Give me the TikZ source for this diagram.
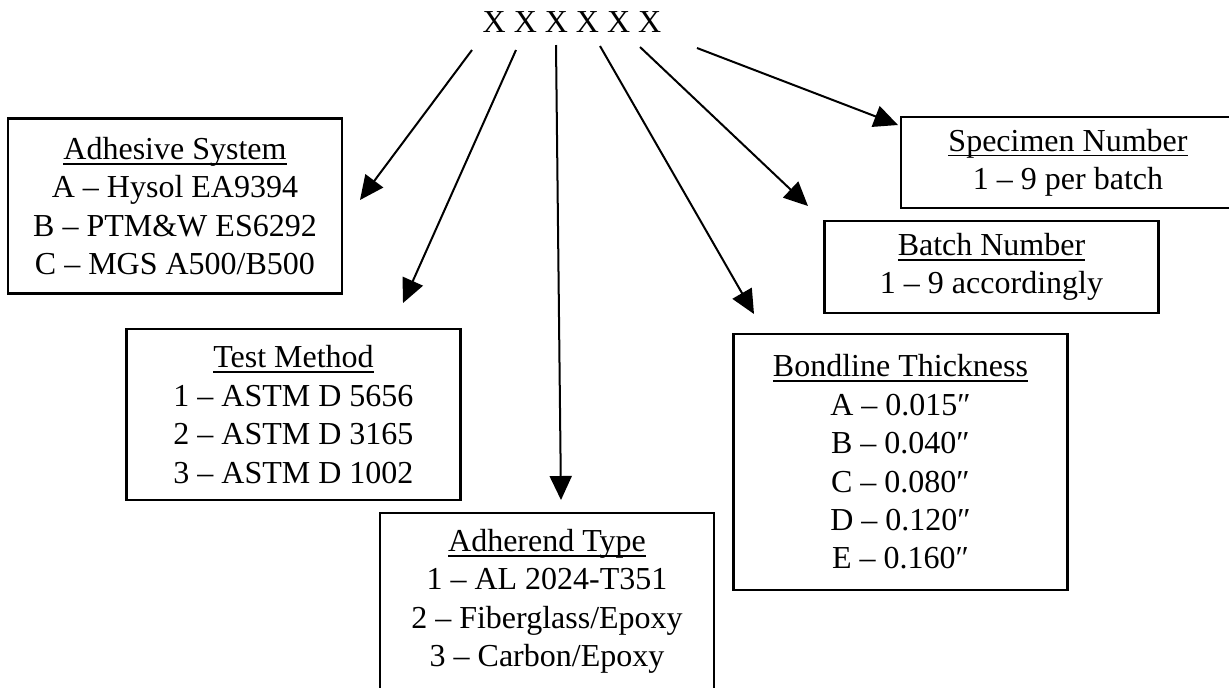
\documentclass[tikz,border=0pt]{standalone}
\usepackage{fontspec}
\setmainfont{Liberation Serif}
\usetikzlibrary{arrows.meta,positioning}
\newcommand{\keytitle}[1]{\setbox0\hbox{#1}\rlap{\rule[-2.6pt]{\wd0}{0.8pt}}\box0}

\begin{document}
\begin{tikzpicture}[x=0.5pt,y=-0.5pt,>={Triangle[length=12pt,width=11pt]},
  every node/.style={font=\fontsize{16}{19.2}\selectfont},
  keybox/.style={draw,line width=1.2pt,minimum width=167pt,align=center,inner sep=0pt},
  pointer/.style={->,line width=1pt}]
\clip (0,0) rectangle (1229,687);
\node[font=\fontsize{16}{19}\selectfont] (code) at (572,22) {X X X X X X};
\node[keybox,minimum height=87.5pt] (adh) at (175,206) {\keytitle{Adhesive System}\\A – Hysol EA9394\\B – PTM\&W ES6292\\C – MGS A500/B500};
\node[keybox,minimum height=85.5pt] (test) at (293.5,414.5) {\keytitle{Test Method}\\1 – ASTM D 5656\\2 – ASTM D 3165\\3 – ASTM D 1002};
\node[keybox,minimum height=88.5pt] (adher) at (547,601.5) {\keytitle{Adherend Type}\\1 – AL 2024-T351\\2 – Fiberglass/Epoxy\\3 – Carbon/Epoxy};
\node[keybox,minimum height=128pt] (bond) at (900.5,462) {\keytitle{Bondline Thickness}\\A – 0.015″\\B – 0.040″\\C – 0.080″\\D – 0.120″\\E – 0.160″};
\node[keybox,minimum height=46pt] (batch) at (991.5,267) {\keytitle{Batch Number}\\1 – 9 accordingly};
\node[keybox,minimum height=45.5pt] (spec) at (1068,162.5) {\keytitle{Specimen Number}\\1 – 9 per batch};
% arrows from the code letters
\coordinate (s1) at (472,50); \coordinate (t1) at (360,200);
\coordinate (s2) at (516,50); \coordinate (t2) at (403,303);
\coordinate (s3) at (556,45); \coordinate (t3) at (561,500);
\coordinate (s4) at (600,46); \coordinate (t4) at (754,314);
\coordinate (s5) at (640,47); \coordinate (t5) at (808,206);
\coordinate (s6) at (697,48); \coordinate (t6) at (898,125);
\draw[pointer] (s1) -- (t1); \draw[pointer] (s2) -- (t2);
\draw[pointer] (s3) -- (t3); \draw[pointer] (s4) -- (t4);
\draw[pointer] (s5) -- (t5); \draw[pointer] (s6) -- (t6);
\end{tikzpicture}
\end{document}
